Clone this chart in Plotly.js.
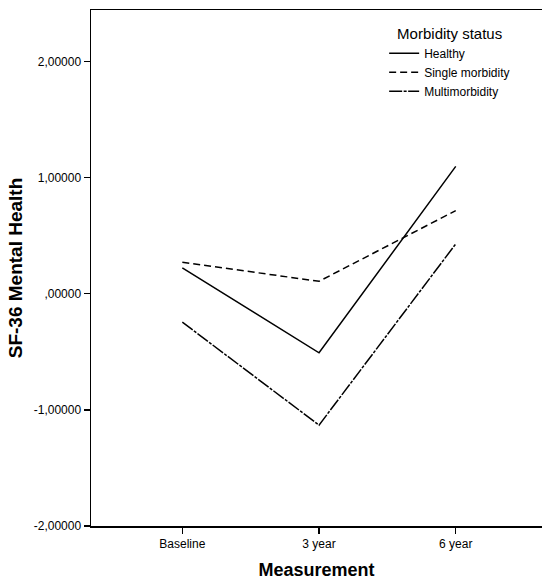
<!DOCTYPE html>
<html>
<head>
<meta charset="utf-8">
<script src="https://cdn.plot.ly/plotly-3.0.1.min.js"></script>
<style>html,body{margin:0;padding:0;background:#fff;}#chart{width:542px;height:580px;}</style>
</head>
<body>
<div id="chart"></div>
<script>
var categories = ["Baseline", "3 year", "6 year"];
var healthy = [0.224, -0.508, 1.098];
var single = [0.272, 0.108, 0.717];
var multi = [-0.244, -1.131, 0.430];
var yTickVals = [-2, -1, 0, 1, 2];
var yTickText = ["-2,00000", "-1,00000", ",00000", "1,00000", "2,00000"];

var xIdx = categories.map(function(c, i){ return i; });
var traces = [
  {x: xIdx, y: healthy, name: "Healthy", mode: "lines", line: {color: "#000", width: 1.5, dash: "solid"}},
  {x: xIdx, y: single, name: "Single morbidity", mode: "lines", line: {color: "#000", width: 1.5, dash: "7px,4px"}},
  {x: xIdx, y: multi, name: "Multimorbidity", mode: "lines", line: {color: "#000", width: 1.5, dash: "13px,1.5px,3px,1.5px"}}
];
var layout = {
  width: 542, height: 580,
  margin: {l: 91, r: 0, t: 10, b: 54},
  paper_bgcolor: "#fff", plot_bgcolor: "#fff",
  font: {family: "Liberation Sans, Arial, sans-serif", color: "#000", size: 12},
  showlegend: true,
  legend: {
    x: 0.650, y: 0.982, xanchor: "left", yanchor: "top",
    bgcolor: "rgba(0,0,0,0)",
    font: {size: 12},
    title: {text: "Morbidity status", font: {size: 15}, side: "top center"},
    tracegroupgap: 0, itemwidth: 30
  },
  xaxis: {
    range: [-0.668, 2.631],
    tickvals: xIdx, ticktext: categories,
    showgrid: false, zeroline: false,
    showline: true, linecolor: "#000", linewidth: 1.5, mirror: true,
    ticks: "outside", ticklen: 6, tickwidth: 1.2, tickcolor: "#000",
    tickfont: {size: 12},
    title: {text: "Measurement", font: {size: 18, weight: "bold"}, standoff: 14}
  },
  yaxis: {
    range: [-2, 2.445],
    tickvals: yTickVals, ticktext: yTickText,
    showgrid: false, zeroline: false,
    showline: true, linecolor: "#000", linewidth: 1.5,
    ticks: "outside", ticklen: 6, tickwidth: 1.2, tickcolor: "#000",
    tickfont: {size: 12},
    title: {text: "SF-36 Mental Health", font: {size: 19, weight: "bold"}, standoff: 6}
  }
};
Plotly.newPlot("chart", traces, layout, {displayModeBar: false, staticPlot: true});
</script>
</body>
</html>
